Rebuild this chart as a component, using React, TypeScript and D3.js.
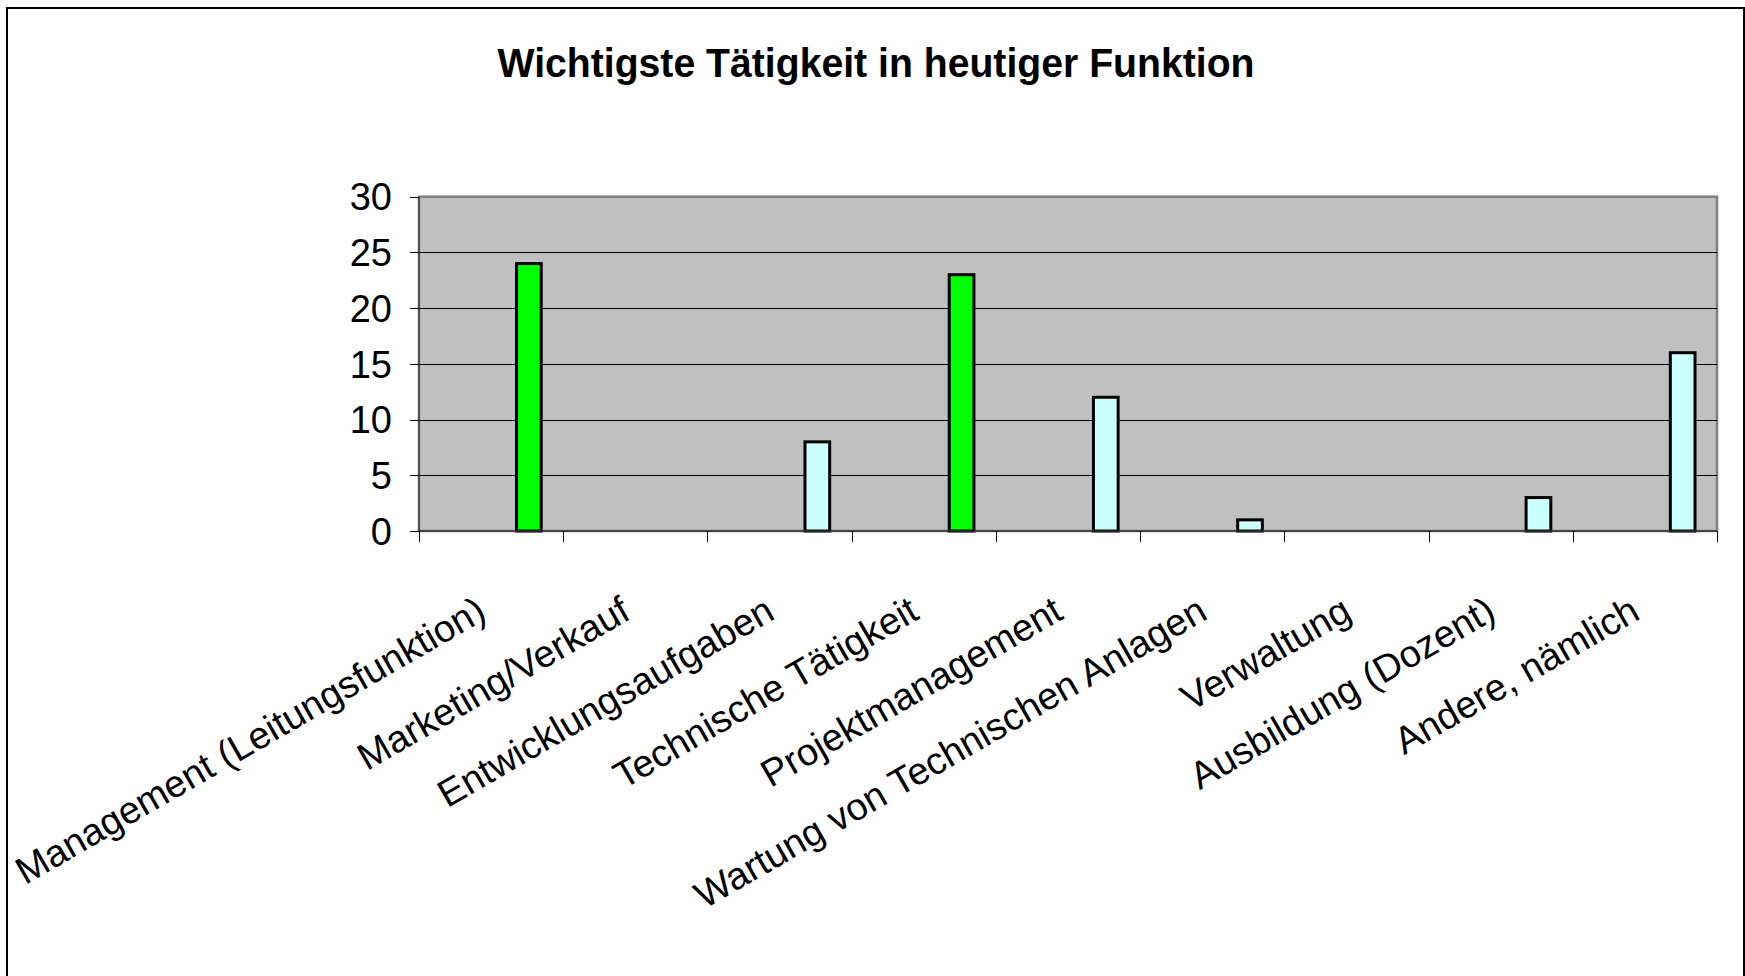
import React from "react";
import * as d3 from "d3";

const title = "Wichtigste Tätigkeit in heutiger Funktion";
const categories = [
  "Management (Leitungsfunktion)",
  "Marketing/Verkauf",
  "Entwicklungsaufgaben",
  "Technische Tätigkeit",
  "Projektmanagement",
  "Wartung von Technischen Anlagen",
  "Verwaltung",
  "Ausbildung (Dozent)",
  "Andere, nämlich",
];
const values = [24, 0, 8, 23, 12, 1, 0, 3, 16];
const highlighted = [true, false, false, true, false, false, false, false, false];
const yTicks = [0, 5, 10, 15, 20, 25, 30];

const W = 1745;
const H = 976;
const plot = { left: 419, right: 1717, top: 196.7, bottom: 531 };
const FONT = "'Liberation Sans', Arial, Helvetica, sans-serif";

export default function App() {
  const x = d3
    .scaleBand<string>()
    .domain(categories)
    .range([plot.left, plot.right])
    .padding(0);
  const y = d3.scaleLinear().domain([0, 30]).range([plot.bottom, plot.top]);
  const bw = x.bandwidth();
  const boundaries = d3.range(categories.length + 1).map((i) => plot.left + i * bw);

  return (
    <svg
      width={W}
      height={H}
      viewBox={`0 0 ${W} ${H}`}
      style={{ position: "absolute", left: 0, top: 0, background: "#fff" }}
    >
      <rect x={0} y={0} width={W} height={H} fill="#fff" />
      {/* outer chart border */}
      <rect x={7} y={8} width={1737} height={H} fill="none" stroke="#000" strokeWidth={2} />

      {/* title */}
      <text
        x={876}
        y={77}
        textAnchor="middle"
        fontFamily={FONT}
        fontWeight="bold"
        fontSize={41}
        textLength={757}
        lengthAdjust="spacingAndGlyphs"
        fill="#000"
      >
        {title}
      </text>

      {/* plot area */}
      <rect
        x={plot.left}
        y={plot.top}
        width={plot.right - plot.left}
        height={plot.bottom - plot.top}
        fill="#C0C0C0"
        stroke="#808080"
        strokeWidth={2.5}
      />

      {/* gridlines */}
      {yTicks
        .filter((t) => t > 0 && t < 30)
        .map((t) => (
          <line
            key={"g" + t}
            x1={plot.left}
            x2={plot.right}
            y1={Math.round(y(t)) + 0.5}
            y2={Math.round(y(t)) + 0.5}
            stroke="#000"
            strokeWidth={1}
          />
        ))}

      {/* bars */}
      {categories.map((c, i) => {
        const x0 = (x(c) as number) + bw * 0.666;
        const w = bw * 0.192;
        const top = y(values[i]);
        if (values[i] <= 0) return null;
        return (
          <rect
            key={"b" + i}
            x={x0 + 1.5}
            y={top}
            width={w - 3}
            height={y(0) - top}
            fill={highlighted[i] ? "#00FF00" : "#CCFFFF"}
            stroke="#000"
            strokeWidth={3}
          />
        );
      })}

      {/* y axis */}
      <line x1={plot.left} x2={plot.left} y1={plot.top} y2={plot.bottom} stroke="#404040" strokeWidth={1.5} />
      {yTicks.map((t) => (
        <g key={"yt" + t}>
          <line
            x1={plot.left - 9}
            x2={plot.left}
            y1={Math.round(y(t)) + 0.5}
            y2={Math.round(y(t)) + 0.5}
            stroke="#000"
            strokeWidth={1}
          />
          <text
            x={392}
            y={y(t)}
            dy="0.36em"
            textAnchor="end"
            fontFamily={FONT}
            fontSize={38}
            fill="#000"
          >
            {t}
          </text>
        </g>
      ))}

      {/* x axis */}
      <line x1={plot.left} x2={plot.right} y1={plot.bottom} y2={plot.bottom} stroke="#303030" strokeWidth={1.5} />
      {boundaries.map((bx, i) => (
        <line
          key={"xt" + i}
          x1={Math.round(bx) + 0.5}
          x2={Math.round(bx) + 0.5}
          y1={plot.bottom}
          y2={plot.bottom + 11}
          stroke="#000"
          strokeWidth={1}
        />
      ))}
      {categories.map((c) => {
        const cx = (x(c) as number) + bw / 2 - 3;
        const cy = 618;
        return (
          <text
            key={"xl" + c}
            transform={`translate(${cx},${cy}) rotate(-30)`}
            textAnchor="end"
            fontFamily={FONT}
            fontSize={38}
            fill="#000"
          >
            {c}
          </text>
        );
      })}
    </svg>
  );
}
